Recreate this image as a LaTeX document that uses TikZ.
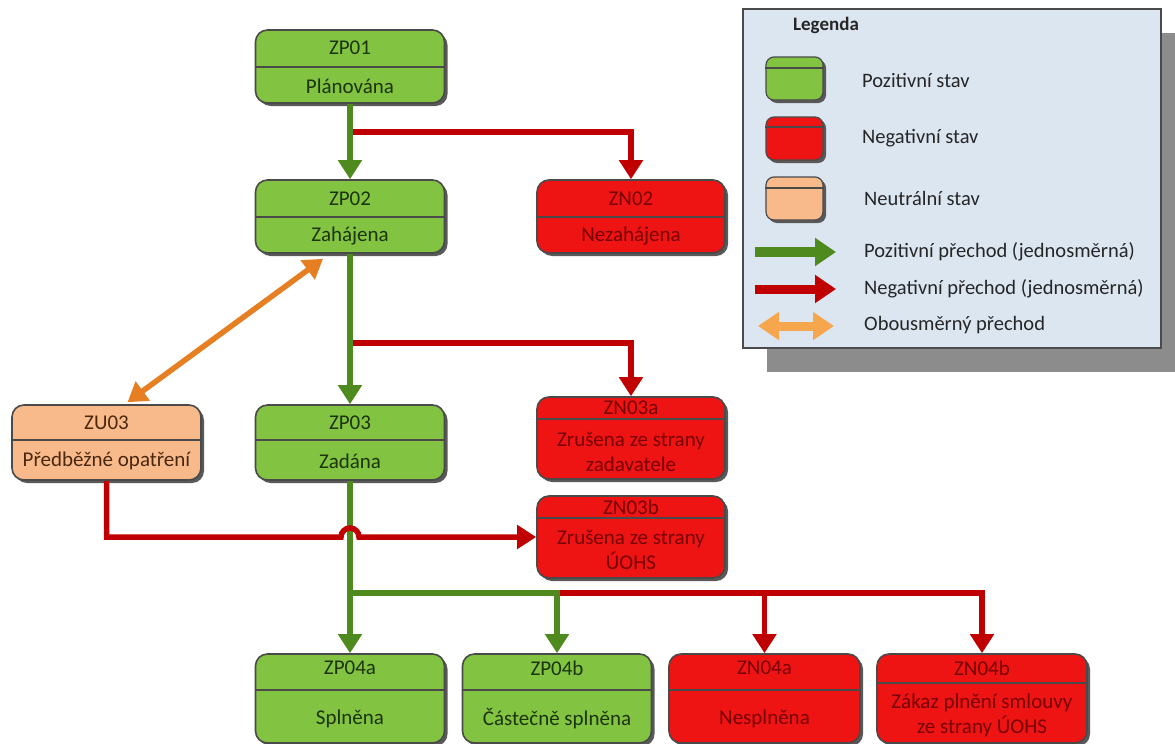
\documentclass[tikz,border=0pt]{standalone}
\usepackage{fontspec}
\setmainfont{Carlito}
\usetikzlibrary{arrows.meta,shadows,calc}
\definecolor{posfill}{HTML}{82C341}
\definecolor{negfill}{HTML}{EE1414}
\definecolor{neufill}{HTML}{F8BA8A}
\definecolor{boxline}{HTML}{4A4A4A}
\definecolor{postext}{HTML}{1C340A}
\definecolor{negtext}{HTML}{780000}
\definecolor{neutext}{HTML}{4A2810}
\definecolor{posline}{HTML}{4F8A1F}
\definecolor{negline}{HTML}{C00000}
\definecolor{neuline}{HTML}{E67E22}
\definecolor{neulight}{HTML}{F6A64C}
\definecolor{legfill}{HTML}{DCE6F1}

\begin{document}
\begin{tikzpicture}[x=1pt,y=-1pt,
  state/.style={draw=boxline,line width=1.6pt,rounded corners=12pt,minimum width=189pt,
    inner sep=0pt,drop shadow={shadow xshift=3pt,shadow yshift=-3pt,fill=black!65,opacity=1}},
  posstate/.style={state,fill=posfill},
  negstate/.style={state,fill=negfill},
  neustate/.style={state,fill=neufill},
  divider/.style={draw=boxline,line width=1.6pt},
  boxtext/.style={font=\fontsize{21}{25}\selectfont,inner sep=0pt,align=center},
  postxt/.style={boxtext,text=postext},
  negtxt/.style={boxtext,text=negtext},
  neutxt/.style={boxtext,text=neutext},
  posarrow/.style={draw=posline,line width=6.5pt,-{Triangle[width=23pt,length=19pt]}},
  negarrow/.style={draw=negline,line width=5.5pt,-{Triangle[width=23pt,length=19pt]}},
  neuarrow/.style={draw=neuline,line width=5.5pt,{Triangle[width=23pt,length=19pt]}-{Triangle[width=23pt,length=19pt]}},
  legtxt/.style={font=\fontsize{20.5}{24}\selectfont,text=black!85,anchor=west,inner sep=0pt},
  swatch/.style={minimum width=57pt,minimum height=43pt,rounded corners=8pt,line width=1.2pt,
    drop shadow={shadow xshift=2.5pt,shadow yshift=-2.5pt,fill=black!65,opacity=1}},
]
\useasboundingbox (0,0) rectangle (1175,744);

% legend
\node[draw=boxline,line width=1.2pt,fill=legfill,minimum width=418pt,minimum height=339pt,
  drop shadow={shadow xshift=24pt,shadow yshift=-24pt,fill=black!45,opacity=1}] (legend) at (952,178.5) {};
\node[font=\fontsize{19}{22}\selectfont\bfseries,text=black!85,inner sep=0pt] (legtitle) at (826,25) {Legenda};
\node[posstate,swatch] (legpos) at (794.5,78.5) {};
\draw[divider,line width=1.2pt] (legpos.west |- 0,68) -- (legpos.east |- 0,68);
\node[negstate,swatch] (legneg) at (794.5,138.5) {};
\draw[divider,line width=1.2pt] (legneg.west |- 0,127) -- (legneg.east |- 0,127);
\node[neustate,swatch] (legneu) at (794.5,198.5) {};
\draw[divider,line width=1.2pt] (legneu.west |- 0,188) -- (legneu.east |- 0,188);
\node[legtxt] (legpostxt) at (862,80) {Pozitivní stav};
\node[legtxt] (legnegtxt) at (862,138) {Negativní stav};
\node[legtxt] (legneutxt) at (864,198) {Neutrální stav};
\coordinate (lgpa) at (755,252);
\coordinate (lgpb) at (836,252);
\coordinate (lgna) at (755,289);
\coordinate (lgnb) at (836,289);
\coordinate (lgua) at (758,326);
\coordinate (lgub) at (834,326);
\draw[draw=posline,line width=10pt,-{Triangle[width=27pt,length=21pt]}] (lgpa) -- (lgpb);
\draw[draw=negline,line width=9pt,-{Triangle[width=27pt,length=21pt]}] (lgna) -- (lgnb);
\draw[draw=neulight,line width=9pt,{Triangle[width=27pt,length=21pt]}-{Triangle[width=27pt,length=21pt]}] (lgua) -- (lgub);
\node[legtxt] (legpostr) at (864,252) {Pozitivní přechod (jednosměrná)};
\node[legtxt] (legnegtr) at (864,289) {Negativní přechod (jednosměrná)};
\node[legtxt] (legneutr) at (864,325) {Obousměrný přechod};

% states
\node[posstate,minimum height=73pt] (zp01) at (350,66.5) {};
\draw[divider] (zp01.west |- 0,67) -- (zp01.east |- 0,67);
\node[postxt] (zp01c) at (350,48) {ZP01};
\node[postxt] (zp01d) at (350,86) {Plánována};

\node[posstate,minimum height=73pt] (zp02) at (350,216.5) {};
\draw[divider] (zp02.west |- 0,217) -- (zp02.east |- 0,217);
\node[postxt] (zp02c) at (350,199) {ZP02};
\node[postxt] (zp02d) at (350,236) {Zahájena};

\node[negstate,minimum width=188pt,minimum height=73pt] (zn02) at (631,216.5) {};
\draw[divider] (zn02.west |- 0,217) -- (zn02.east |- 0,217);
\node[negtxt] (zn02c) at (631,199) {ZN02};
\node[negtxt] (zn02d) at (631,236) {Nezahájena};

\node[neustate,minimum height=75pt] (zu03) at (106.5,442.5) {};
\draw[divider] (zu03.west |- 0,440) -- (zu03.east |- 0,440);
\node[neutxt] (zu03c) at (106.5,423) {ZU03};
\node[neutxt] (zu03d) at (106.5,461) {Předběžné opatření};

\node[posstate,minimum height=75pt] (zp03) at (350,442.5) {};
\draw[divider] (zp03.west |- 0,440) -- (zp03.east |- 0,440);
\node[postxt] (zp03c) at (350,423) {ZP03};
\node[postxt] (zp03d) at (350,461) {Zadána};

\node[negstate,minimum width=188pt,minimum height=82pt] (zn03a) at (631,438) {};
\draw[divider] (zn03a.west |- 0,419) -- (zn03a.east |- 0,419);
\node[negtxt] (zn03ac) at (631,408) {ZN03a};
\node[negtxt] (zn03ad) at (631,452) {Zrušena ze strany\\zadavatele};

\node[negstate,minimum width=188pt,minimum height=82pt] (zn03b) at (631,537) {};
\draw[divider] (zn03b.west |- 0,518) -- (zn03b.east |- 0,518);
\node[negtxt] (zn03bc) at (631,507) {ZN03b};
\node[negtxt] (zn03bd) at (631,550) {Zrušena ze strany\\ÚOHS};

\node[posstate,minimum height=89pt] (zp04a) at (350,698.5) {};
\draw[divider] (zp04a.west |- 0,690) -- (zp04a.east |- 0,690);
\node[postxt] (zp04ac) at (350,668) {ZP04a};
\node[postxt] (zp04ad) at (350,719) {Splněna};

\node[posstate,minimum height=89pt] (zp04b) at (557,698.5) {};
\draw[divider] (zp04b.west |- 0,690) -- (zp04b.east |- 0,690);
\node[postxt] (zp04bc) at (557,668) {ZP04b};
\node[postxt] (zp04bd) at (557,719) {Částečně splněna};

\node[negstate,minimum width=191pt,minimum height=89pt] (zn04a) at (764.5,698.5) {};
\draw[divider] (zn04a.west |- 0,690) -- (zn04a.east |- 0,690);
\node[negtxt] (zn04ac) at (764.5,668) {ZN04a};
\node[negtxt] (zn04ad) at (764.5,719) {Nesplněna};

\node[negstate,minimum width=210pt,minimum height=89pt] (zn04b) at (982,698.5) {};
\draw[divider] (zn04b.west |- 0,683) -- (zn04b.east |- 0,683);
\node[negtxt] (zn04bc) at (982,668) {ZN04b};
\node[negtxt] (zn04bd) at (982,715) {Zákaz plnění smlouvy\\ze strany ÚOHS};

% transitions
\coordinate (br1) at (350,132);
\coordinate (br2) at (350,343);
\coordinate (br3) at (350,593);
\coordinate (br4) at (557,593);
\coordinate (hop) at (341,537);
\draw[negarrow] (br1) -| (zn02.north);
\draw[negarrow] (br2) -| (zn03a.north);
\draw[negarrow] (br4) -| (zn04a.north);
\draw[negarrow] (br4) -| (zn04b.north);
\draw[posarrow] (zp01) -- (zp02);
\draw[posarrow] (zp02) -- (zp03);
\draw[posarrow] (zp03) -- (zp04a);
\draw[posarrow] (br3) -| (zp04b.north);
\draw[negarrow] (zu03.south) |- (hop) arc[start angle=180,end angle=360,radius=9] -- (zn03b.west);
\draw[neuarrow] ($(zp02.south)+(-27,5)$) -- ($(zu03.north)+(21,-2)$);
\end{tikzpicture}
\end{document}
